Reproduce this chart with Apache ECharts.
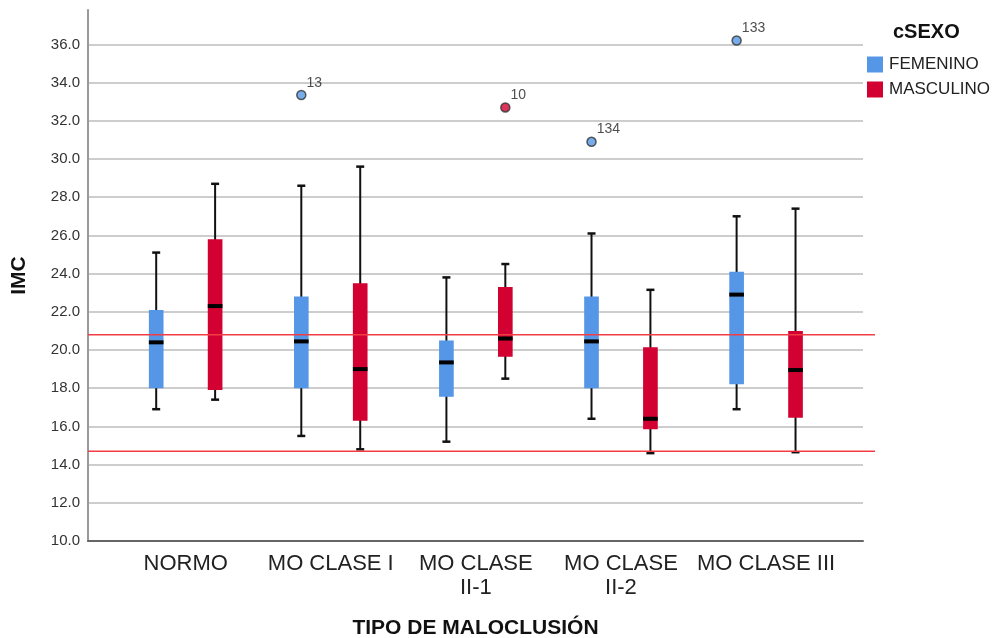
<!DOCTYPE html>
<html>
<head>
<meta charset="utf-8">
<script src="https://cdn.jsdelivr.net/npm/echarts@6/dist/echarts.min.js"></script>
<style>html,body{margin:0;padding:0;background:#fff}#c{width:994px;height:638px}</style>
</head>
<body>
<div id="c"></div>
<script>
// Categories (x axis)
var categories = ['NORMO', 'MO CLASE I', 'MO CLASE\nII-1', 'MO CLASE\nII-2', 'MO CLASE III'];
// Box stats per category: [min, Q1, median, Q3, max]
var femenino = [
  [16.9, 18.0, 20.4, 22.1, 25.1],
  [15.5, 18.0, 20.45, 22.8, 28.6],
  [15.2, 17.55, 19.35, 20.5, 23.8],
  [16.4, 18.0, 20.45, 22.8, 26.1],
  [16.9, 18.2, 22.9, 24.1, 27.0]
];
var masculino = [
  [17.4, 17.9, 22.3, 25.8, 28.7],
  [14.8, 16.3, 19.0, 23.5, 29.6],
  [18.5, 19.65, 20.6, 23.3, 24.5],
  [14.6, 15.85, 16.4, 20.15, 23.15],
  [14.65, 16.45, 18.95, 21.0, 27.4]
];
// Outliers: [category index, value, case label]
var outFemenino = [[1, 33.35, '13'], [3, 30.9, '134'], [4, 36.2, '133']];
var outMasculino = [[2, 32.7, '10']];
// Reference lines
var refLines = [20.8, 14.7];
// Y ticks
var yMin = 10, yMax = 37.8, yStep = 2;

var FONT = "'Liberation Sans', Arial, sans-serif";
var BLUE = '#5597e6', RED = '#d30032';
var OFF = 0.203, BOXW = 0.101;

function boxRender(offset, color) {
  return function (params, api) {
    var x = api.value(0) + offset;
    var lo = api.coord([x, api.value(1)]);
    var q1 = api.coord([x, api.value(2)]);
    var md = api.coord([x, api.value(3)]);
    var q3 = api.coord([x, api.value(4)]);
    var hi = api.coord([x, api.value(5)]);
    var bw = api.size([BOXW, 0])[0];
    var cx = lo[0];
    var cw = 4;
    return {
      type: 'group',
      children: [
        { type: 'line', shape: { x1: cx, y1: hi[1], x2: cx, y2: lo[1] }, style: { stroke: '#111', lineWidth: 2 } },
        { type: 'line', shape: { x1: cx - cw, y1: hi[1], x2: cx + cw, y2: hi[1] }, style: { stroke: '#111', lineWidth: 2.5 } },
        { type: 'line', shape: { x1: cx - cw, y1: lo[1], x2: cx + cw, y2: lo[1] }, style: { stroke: '#111', lineWidth: 2.5 } },
        { type: 'rect', shape: { x: cx - bw / 2, y: q3[1], width: bw, height: q1[1] - q3[1] }, style: { fill: color } },
        { type: 'rect', shape: { x: cx - bw / 2, y: md[1] - 2, width: bw, height: 4 }, style: { fill: '#000' } }
      ]
    };
  };
}

function boxData(arr) { return arr.map(function (d, i) { return [i].concat(d); }); }
function outData(arr, offset) { return arr.map(function (d) { return { value: [d[0] + offset, d[1]], name: d[2] }; }); }

var chart = echarts.init(document.getElementById('c'), null, { renderer: 'canvas' });
chart.setOption({
  animation: false,
  backgroundColor: '#fff',
  textStyle: { fontFamily: FONT },
  title: {
    text: 'cSEXO', left: 893, top: 22, padding: 0,
    textStyle: { fontFamily: FONT, fontSize: 20, fontWeight: 'bold', color: '#111' }
  },
  legend: {
    data: ['FEMENINO', 'MASCULINO'], orient: 'vertical', left: 867, top: 56, padding: 0,
    itemWidth: 16, itemHeight: 16, itemGap: 8, icon: 'rect',
    textStyle: { fontFamily: FONT, fontSize: 17, color: '#222', padding: [0, 0, 0, 1] }
  },
  grid: { left: 88, right: 131, top: 10, bottom: 97, containLabel: false, outerBoundsMode: 'none' },
  xAxis: {
    type: 'value', min: -0.673, max: 4.668,
    name: 'TIPO DE MALOCLUSIÓN', nameLocation: 'middle', nameGap: 77,
    nameTextStyle: { fontFamily: FONT, fontSize: 21, fontWeight: 'bold', color: '#111' },
    axisLine: { show: true, onZero: false, lineStyle: { color: '#666', width: 2 } },
    axisTick: { show: false },
    splitLine: { show: false },
    axisLabel: {
      customValues: [0, 1, 2, 3, 4],
      formatter: function (v) { return categories[Math.round(v)]; },
      fontFamily: FONT, fontSize: 22, color: '#222', lineHeight: 24, margin: 11
    }
  },
  yAxis: {
    type: 'value', min: yMin, max: yMax, interval: yStep,
    name: 'IMC', nameLocation: 'middle', nameGap: 58,
    nameTextStyle: { fontFamily: FONT, fontSize: 21, fontWeight: 'bold', color: '#111' },
    axisLine: { show: true, onZero: false, lineStyle: { color: '#999', width: 2 } },
    axisTick: { show: false },
    axisLabel: {
      formatter: function (v) { return v.toFixed(1); }, showMaxLabel: false,
      fontFamily: FONT, fontSize: 15, color: '#333', margin: 8
    },
    splitLine: { show: true, showMaxLine: false, showMinLine: false, lineStyle: { color: '#cdcdcd', width: 2 } }
  },
  series: [
    { name: 'FEMENINO', type: 'custom', itemStyle: { color: BLUE }, renderItem: boxRender(-OFF, BLUE),
      encode: { x: 0, y: [1, 2, 3, 4, 5] }, data: boxData(femenino), z: 2 },
    { name: 'MASCULINO', type: 'custom', itemStyle: { color: RED }, renderItem: boxRender(OFF, RED),
      encode: { x: 0, y: [1, 2, 3, 4, 5] }, data: boxData(masculino), z: 2 },
    { name: 'outF', type: 'scatter', symbolSize: 9, z: 4, data: outData(outFemenino, -OFF),
      itemStyle: { color: BLUE, borderColor: '#333', borderWidth: 1.5 },
      label: { show: true, position: [10.5, -14], formatter: '{b}', fontFamily: FONT, fontSize: 14, color: '#222' } },
    { name: 'outM', type: 'scatter', symbolSize: 9, z: 4, data: outData(outMasculino, OFF),
      itemStyle: { color: RED, borderColor: '#333', borderWidth: 1.5 },
      label: { show: true, position: [10.5, -14], formatter: '{b}', fontFamily: FONT, fontSize: 14, color: '#222' } },
    { name: 'ref', type: 'custom', silent: true, clip: false, z: 5,
      encode: { x: 0, y: 1 }, data: refLines.map(function (v) { return [0, v]; }),
      renderItem: function (params, api) {
        var cs = params.coordSys;
        var y = api.coord([0, api.value(1)])[1];
        return { type: 'line', shape: { x1: cs.x, y1: y, x2: cs.x + cs.width + 12, y2: y },
          style: { stroke: '#f23c46', lineWidth: 1.5 } };
      } }
  ]
});
</script>
</body>
</html>
